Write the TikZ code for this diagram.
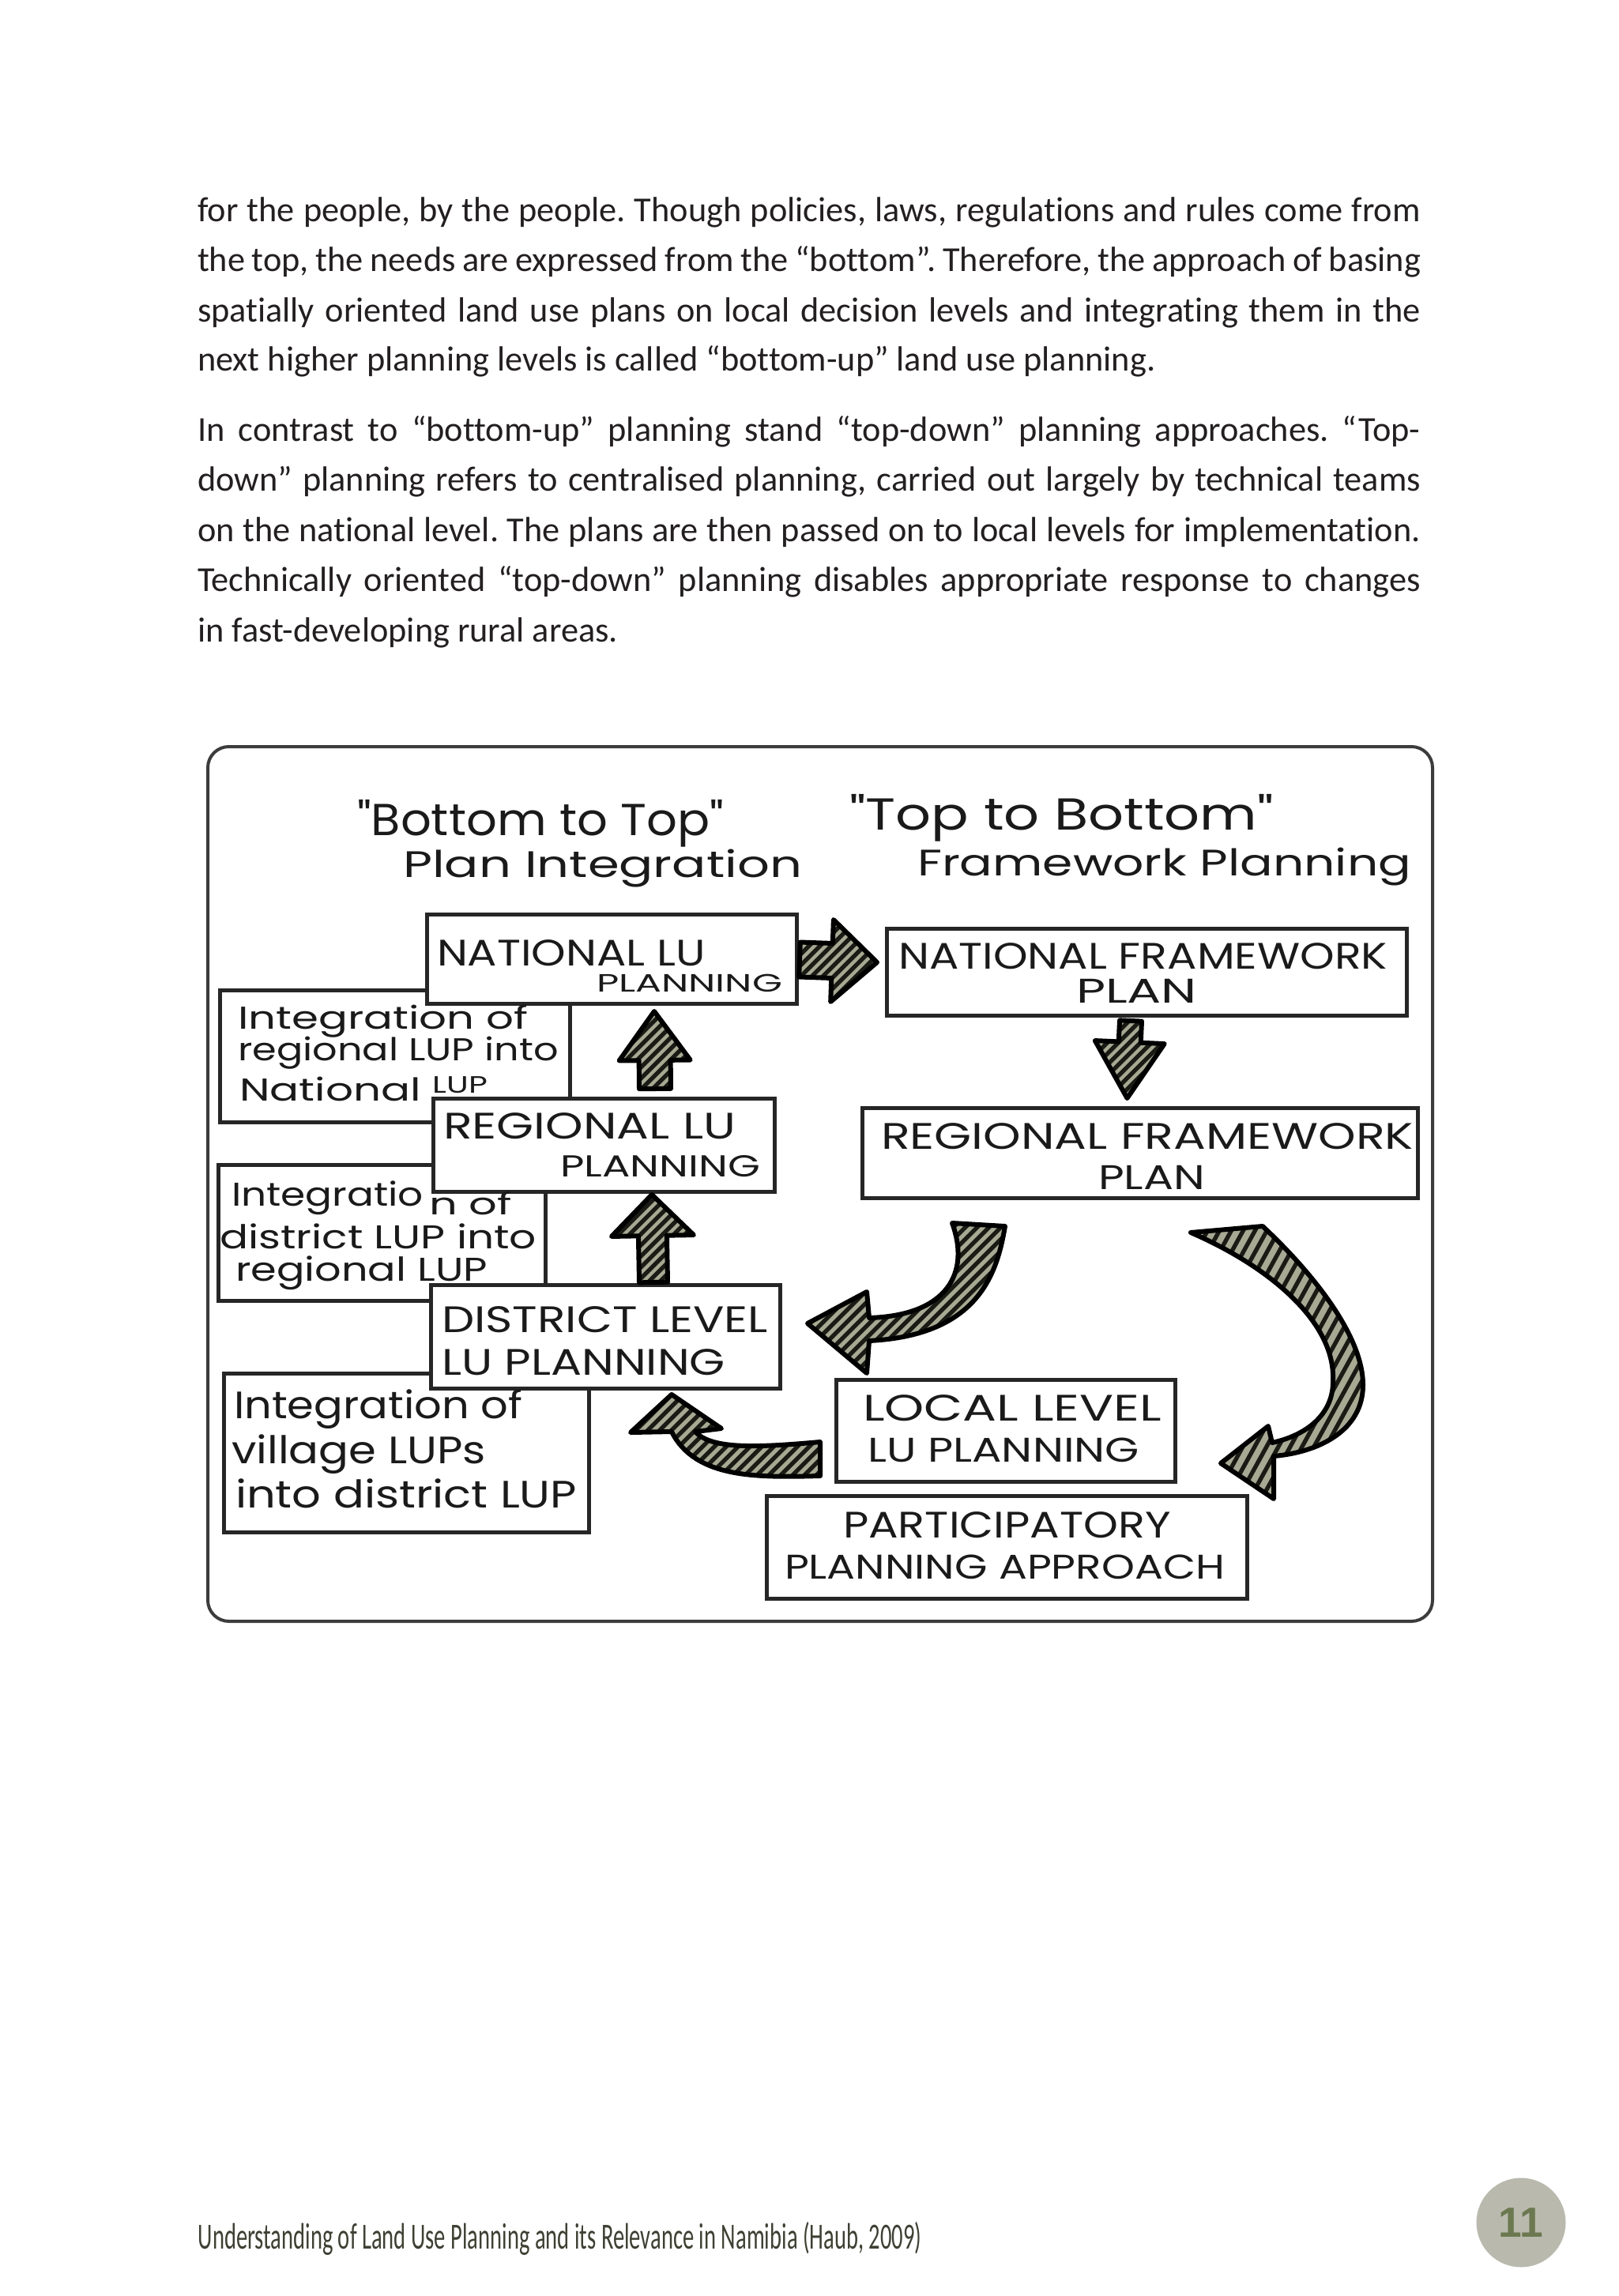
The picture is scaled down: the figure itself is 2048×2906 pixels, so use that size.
\documentclass[tikz,border=0pt]{standalone}
\usepackage{fontspec}
\usepackage{graphicx}
\usetikzlibrary{calc}
\setmainfont{Carlito}[Ligatures={TeX,NoCommon}]
\newfontfamily\hand{Poppins}
\newfontfamily\numfont{Liberation Sans}
\frenchspacing
\newdimen\pxu \pxu=0.3pt
\definecolor{bodytext}{HTML}{231F20}
\definecolor{boxline}{HTML}{262626}
\definecolor{inkc}{HTML}{1A1A1A}
\definecolor{framec}{HTML}{3C3C3C}
\definecolor{arrowol}{HTML}{A7A993}
\definecolor{stripec}{HTML}{1B1B15}
\definecolor{pgc}{HTML}{B9BAAD}
\definecolor{pgtext}{HTML}{6C7850}
\definecolor{foottext}{HTML}{3E4033}
\newcommand\hw[2]{\resizebox{#1\pxu}{\height}{#2}}
\newcommand\jline[1]{\makebox[1548\pxu][s]{#1}}
\tikzset{
  body/.style={anchor=base west, inner sep=0pt, outer sep=0pt, font=\fontsize{13.3pt}{16pt}\selectfont, text=bodytext},
  box/.style={draw=boxline, line width=1.5pt, fill=white, inner sep=0pt, outer sep=0pt},
  bx/.style 2 args={minimum width=#1*0.3pt, minimum height=#2*0.3pt},
  lbl/.style={anchor=base west, inner sep=0pt, outer sep=0pt, text=inkc},
  arrowline/.style={draw=black, line width=1.8pt, line join=round},
  stripe/.style={draw=stripec, line width=1.6pt},
}
\newcommand\hatchshape[5]{%
  \fill[arrowol] #1;
  \begin{scope}
    \clip #1;
    \foreach \i [evaluate=\i as \c using #3+#5*\i] in {0,...,#4}
      {\draw[stripe] ({\c-#2*2100},2100) -- ({\c-#2*900},900);}
  \end{scope}
  \draw[arrowline] #1;
}
\newcommand\blockarrow[7]{%
  \coordinate (hb) at ($(#2)!#5*0.3pt!(#1)$);
  \hatchshape{($(#1)!#3*0.3pt!90:(#2)$) -- ($(hb)!#3*0.3pt!90:(#2)$) -- ($(hb)!#4*0.3pt!90:(#2)$) -- (#2) -- ($(hb)!#4*0.3pt!-90:(#2)$) -- ($(hb)!#3*0.3pt!-90:(#2)$) -- ($(#1)!#3*0.3pt!-90:(#2)$) -- cycle}{1}{#6}{#7}{14}%
}
\begin{document}
\begin{tikzpicture}[x=0.3pt,y=-0.3pt]
\fill[white] (0,0) rectangle (2048,2906);
\useasboundingbox (0,0) rectangle (2048,2906);

% ---- body text ----
\node[body] (p1a) at (250,281) {\jline{for the people, by the people. Though policies, laws, regulations and rules come from}};
\node[body] (p1b) at (250,344) {\jline{the top, the needs are expressed from the “bottom”. Therefore, the approach of basing}};
\node[body] (p1c) at (250,407) {\jline{spatially oriented land use plans on local decision levels and integrating them in the}};
\node[body] (p1d) at (250,470) {next higher planning levels is called “bottom-up” land use planning.};
\node[body] (p2a) at (250,558) {\jline{In contrast to “bottom-up” planning stand “top-down” planning approaches. “Top-}};
\node[body] (p2b) at (250,621) {\jline{down” planning refers to centralised planning, carried out largely by technical teams}};
\node[body] (p2c) at (250,685) {\jline{on the national level. The plans are then passed on to local levels for implementation.}};
\node[body] (p2d) at (250,748) {\jline{Technically oriented “top-down” planning disables appropriate response to changes}};
\node[body] (p2e) at (250,812) {in fast-developing rural areas.};

% ---- frame ----
\node[draw=framec, line width=1.2pt, rounded corners=8pt, inner sep=0pt, outer sep=0pt, bx={1550}{1107}] (frame) at (1038,1498.5) {};

% ---- titles ----
\node[lbl, font=\hand\fontsize{17pt}{17pt}\selectfont] (t1) at (452,1057) {\hw{464}{"Bottom to Top"}};
\node[lbl, font=\hand\fontsize{14pt}{14pt}\selectfont] (t2) at (510,1110) {\hw{505}{Plan Integration}};
\node[lbl, font=\hand\fontsize{17pt}{17pt}\selectfont] (t3) at (1075,1050) {\hw{537}{"Top to Bottom"}};
\node[lbl, font=\hand\fontsize{14pt}{14pt}\selectfont] (t4) at (1161,1108) {\hw{625}{Framework Planning}};

% ---- integration boxes (behind) ----
\node[box, bx={443}{167}] (intreg) at (499.5,1336.5) {};
\node[box, bx={414}{172}] (intdist) at (483,1560) {};
\node[box, bx={462}{201}] (intvil) at (514,1838.5) {};

% ---- planning boxes ----
\node[box, bx={468}{113}] (natlu) at (774,1213.5) {};
\node[box, bx={432}{118}] (reglu) at (764,1449) {};
\node[box, bx={442}{131}] (distlu) at (766,1691.5) {};
\node[box, bx={658}{110}] (natfw) at (1451,1230) {};
\node[box, bx={703}{114}] (regfw) at (1442.5,1459) {};
\node[box, bx={429}{129}] (locallu) at (1272.5,1810.5) {};
\node[box, bx={608}{130}] (particip) at (1274,1958) {};

% ---- labels ----
\node[lbl, font=\hand\fontsize{14pt}{14pt}\selectfont] (natlu1) at (553,1222) {\hw{340}{NATIONAL LU}};
\node[lbl, font=\hand\fontsize{9.5pt}{9.5pt}\selectfont] (natlu2) at (755,1255) {\hw{235}{PLANNING}};
\node[lbl, font=\hand\fontsize{12pt}{12pt}\selectfont] (intreg1) at (301,1302) {\hw{367}{Integration of}};
\node[lbl, font=\hand\fontsize{12pt}{12pt}\selectfont] (intreg2) at (301,1342) {\hw{406}{regional LUP into}};
\node[lbl, font=\hand\fontsize{12pt}{12pt}\selectfont] (intreg3) at (303,1393) {\hw{314}{National \raisebox{3pt}{\fontsize{9pt}{9pt}\selectfont LUP}}};
\node[lbl, font=\hand\fontsize{14pt}{14pt}\selectfont] (reglu1) at (561,1441) {\hw{370}{REGIONAL LU}};
\node[lbl, font=\hand\fontsize{11.5pt}{11.5pt}\selectfont] (reglu2) at (709,1489) {\hw{253}{PLANNING}};
\node[lbl, font=\hand\fontsize{12.5pt}{12.5pt}\selectfont] (intdist1a) at (293,1526) {\hw{243}{Integratio}};
\node[lbl, font=\hand\fontsize{11.5pt}{11.5pt}\selectfont] (intdist1b) at (543,1537) {\hw{105}{n of}};
\node[lbl, font=\hand\fontsize{12.5pt}{12.5pt}\selectfont] (intdist2) at (278,1580) {\hw{401}{district LUP into}};
\node[lbl, font=\hand\fontsize{12.5pt}{12.5pt}\selectfont] (intdist3) at (298,1621) {\hw{319}{regional LUP}};
\node[lbl, font=\hand\fontsize{14pt}{14pt}\selectfont] (distlu1) at (559,1686) {\hw{413}{DISTRICT LEVEL}};
\node[lbl, font=\hand\fontsize{14pt}{14pt}\selectfont] (distlu2) at (559,1740) {\hw{359}{LU PLANNING}};
\node[lbl, font=\hand\fontsize{14.5pt}{14.5pt}\selectfont] (intvil1) at (296,1795) {\hw{365}{Integration of}};
\node[lbl, font=\hand\fontsize{14.5pt}{14.5pt}\selectfont] (intvil2) at (293,1852) {\hw{322}{village LUPs}};
\node[lbl, font=\hand\fontsize{14.5pt}{14.5pt}\selectfont] (intvil3) at (298,1908) {\hw{432}{into district LUP}};
\node[lbl, font=\hand\fontsize{14pt}{14pt}\selectfont] (natfw1) at (1137,1226) {\hw{619}{NATIONAL FRAMEWORK}};
\node[lbl, font=\hand\fontsize{13pt}{13pt}\selectfont] (natfw2) at (1362,1269) {\hw{153}{PLAN}};
\node[lbl, font=\hand\fontsize{14pt}{14pt}\selectfont] (regfw1) at (1115,1454) {\hw{674}{REGIONAL FRAMEWORK}};
\node[lbl, font=\hand\fontsize{13pt}{13pt}\selectfont] (regfw2) at (1390,1505) {\hw{135}{PLAN}};
\node[lbl, font=\hand\fontsize{14pt}{14pt}\selectfont] (locallu1) at (1092,1798) {\hw{378}{LOCAL LEVEL}};
\node[lbl, font=\hand\fontsize{13pt}{13pt}\selectfont] (locallu2) at (1098,1850) {\hw{344}{LU PLANNING}};
\node[lbl, font=\hand\fontsize{14pt}{14pt}\selectfont] (particip1) at (1067,1946) {\hw{415}{PARTICIPATORY}};
\node[lbl, font=\hand\fontsize{13pt}{13pt}\selectfont] (particip2) at (993,1998) {\hw{557}{PLANNING APPROACH}};

% ---- straight block arrows ----
\coordinate (ra1) at ($(natlu.east)+(4,1)$);
\coordinate (ra2) at ($(natfw.west)+(-12,-12)$);
\blockarrow{ra1}{ra2}{22}{52}{57}{2165}{16}
\coordinate (ua1s) at ($(reglu.north)+(65,-12)$);
\coordinate (ua1e) at ($(natlu.south)+(54,10)$);
\blockarrow{ua1s}{ua1e}{20}{45}{62}{2050}{15}
\coordinate (ua2s) at ($(distlu.north)+(61,-3)$);
\coordinate (ua2e) at ($(reglu.south)+(61,4)$);
\blockarrow{ua2s}{ua2e}{18}{52}{52}{2275}{17}
\coordinate (das) at ($(natfw.south)+(-20,7)$);
\coordinate (dae) at ($(regfw.north)+(-16,-12)$);
\blockarrow{das}{dae}{14}{44}{71}{2665}{15}

% ---- curved block arrows ----
\hatchshape{(1205,1548) -- (1272,1552) .. controls (1262,1610) and (1240,1690) .. (1100,1697) -- (1097,1738) -- (1022,1675) -- (1097,1635) -- (1100,1668) .. controls (1200,1665) and (1228,1610) .. (1205,1548) -- cycle}{1}{2685}{18}{15}
\hatchshape{(1507,1560) -- (1598,1552) .. controls (1660,1610) and (1725,1690) .. (1725,1753) .. controls (1725,1810) and (1670,1838) .. (1612,1843) -- (1612,1897) -- (1545,1852) -- (1605,1805) -- (1610,1826) .. controls (1660,1815) and (1688,1785) .. (1687,1747) .. controls (1690,1670) and (1600,1600) .. (1507,1560) -- cycle}{0.55}{2355}{24}{15}
\hatchshape{(1038,1825) -- (1038,1868) .. controls (960,1870) and (880,1872) .. (850,1812) -- (798,1813) -- (850,1765) -- (913,1808) -- (880,1812) .. controls (900,1835) and (960,1832) .. (1038,1825) -- cycle}{1}{2600}{21}{15}

% ---- footer ----
\node[anchor=base west, inner sep=0pt, text=foottext, font=\fontsize{14pt}{14pt}\selectfont] (footer) at (250,2846) {\hw{916}{Understanding of Land Use Planning and its Relevance in Namibia (Haub, 2009)}};
\node[circle, fill=pgc, inner sep=0pt, minimum size=113*0.3pt, text=pgtext, font=\numfont\bfseries\fontsize{16pt}{16pt}\selectfont] (pgnum) at (1925,2813) {11};
\end{tikzpicture}
\end{document}
